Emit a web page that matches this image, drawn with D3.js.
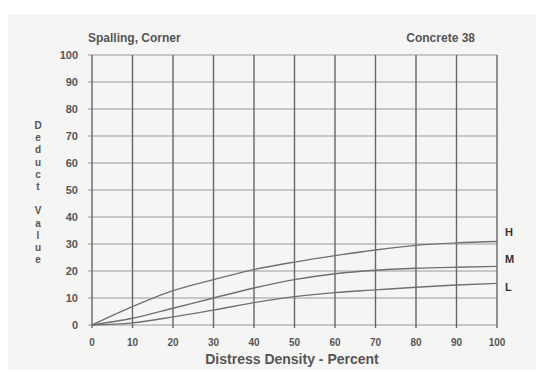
<!DOCTYPE html>
<html><head><meta charset="utf-8">
<script src="https://cdn.jsdelivr.net/npm/d3@7"></script>
<style>body{margin:0;background:#fff}svg{display:block}</style>
</head><body>
<script>
const xTicks = [0,10,20,30,40,50,60,70,80,90,100];
const yTicks = [0,10,20,30,40,50,60,70,80,90,100];
const density = [0,10,20,30,40,50,60,70,80,90,100];
const highValues = [0,6.8,12.7,16.8,20.5,23.3,25.7,27.8,29.5,30.4,30.9];
const mediumValues = [0,2.5,6.2,10,13.7,16.8,19,20.3,21,21.4,21.7];
const lowValues = [0,0.8,3,5.5,8.3,10.5,12,13,14,14.8,15.4];
const seriesNames = ["H","M","L"];

const W=543,H=372;
const svg=d3.select("body").append("svg").attr("width",W).attr("height",H);
svg.append("rect").attr("x",0).attr("y",0).attr("width",W).attr("height",H).attr("fill","#ffffff");
svg.append("rect").attr("x",8).attr("y",14).attr("width",528).attr("height",356).attr("fill","#f5f5f3");

const x=d3.scaleLinear().domain([0,100]).range([92,497]);
const y=d3.scaleLinear().domain([0,100]).range([325,55]);
const font="'Liberation Sans', Arial, sans-serif";
const ink="#555555";

svg.append("g").selectAll("line").data(yTicks).join("line")
  .attr("x1",x(0)-4).attr("x2",x(100)).attr("y1",d=>y(d)).attr("y2",d=>y(d))
  .attr("stroke","#9a9a9a").attr("stroke-width",1.2);
svg.append("g").selectAll("line").data(xTicks).join("line")
  .attr("y1",y(100)).attr("y2",y(0)+3).attr("x1",d=>x(d)).attr("x2",d=>x(d))
  .attr("stroke","#666").attr("stroke-width",1.4);

svg.append("g").selectAll("text").data(yTicks).join("text")
  .attr("x",78).attr("y",d=>y(d)+4).attr("text-anchor","end")
  .attr("font-family",font).attr("font-size",11).attr("font-weight","bold").attr("fill",ink)
  .text(d=>d);
svg.append("g").selectAll("text").data(xTicks).join("text")
  .attr("x",d=>x(d)).attr("y",346).attr("text-anchor","middle")
  .attr("font-family",font).attr("font-size",10).attr("font-weight","bold").attr("fill",ink)
  .text(d=>d);

const line=d3.line().x((d,i)=>x(density[i])).y(d=>y(d)).curve(d3.curveMonotoneX);
[highValues,mediumValues,lowValues].forEach(vals=>{
  svg.append("path").attr("d",line(vals)).attr("fill","none")
    .attr("stroke","#707070").attr("stroke-width",1.4);
});
const labelY=[232,259,287];
svg.append("g").selectAll("text").data(seriesNames).join("text")
  .attr("x",505).attr("y",(d,i)=>labelY[i]+4)
  .attr("font-family",font).attr("font-size",11).attr("font-weight","bold").attr("fill","#333")
  .text(d=>d);

svg.append("text").attr("x",88).attr("y",42).attr("font-family",font).attr("font-size",12)
  .attr("font-weight","bold").attr("fill",ink).text("Spalling, Corner");
svg.append("text").attr("x",475).attr("y",42).attr("text-anchor","end").attr("font-family",font).attr("font-size",12)
  .attr("font-weight","bold").attr("fill",ink).text("Concrete 38");
svg.append("text").attr("x",292).attr("y",364).attr("text-anchor","middle").attr("font-family",font).attr("font-size",14)
  .attr("font-weight","bold").attr("fill",ink).text("Distress Density - Percent");

const yl="Deduct Value".split("");
svg.append("g").selectAll("text").data(yl).join("text")
  .attr("x",38).attr("y",(d,i)=>129+i*12.2).attr("text-anchor","middle")
  .attr("font-family",font).attr("font-size",10).attr("font-weight","bold").attr("fill",ink)
  .text(d=>d);
</script>
</body></html>
